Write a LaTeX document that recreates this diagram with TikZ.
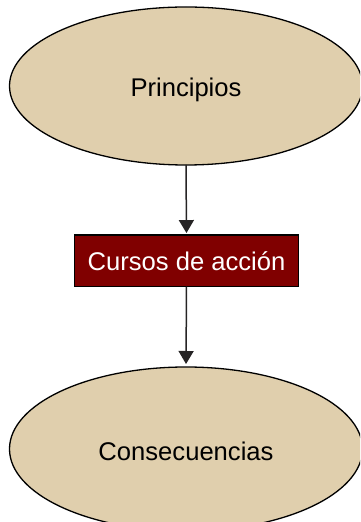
\documentclass[tikz,border=0pt]{standalone}
\usepackage{fontspec}
\setmainfont{Liberation Sans}
\usetikzlibrary{shapes.geometric,arrows.meta}
\definecolor{tan}{RGB}{224,207,173}
\definecolor{darkred}{RGB}{128,0,0}
\definecolor{arrowgray}{RGB}{38,36,37}
\begin{document}
\begin{tikzpicture}[x=1pt,y=1pt,
  oval/.style={ellipse, draw=black, line width=1.3pt, fill=tan, inner sep=0pt, outer sep=0pt,
    minimum width=353pt, font=\fontsize{25.6}{30}\selectfont},
  actbox/.style={rectangle, draw=black, line width=1.3pt, fill=darkred, text=white, inner sep=0pt, outer sep=0pt,
    minimum width=224pt, minimum height=51.5pt, font=\fontsize{25.6}{30}\selectfont},
  flow/.style={draw=arrowgray, line width=1.5pt, -{Triangle[width=15pt,length=13pt]}}]
\clip (0,0) rectangle (360,522);
\useasboundingbox (0,0) rectangle (360,522);
\node[oval, minimum height=158pt, text height=26pt, text depth=5.4pt] (p) at (186,436) {Principios};
\node[actbox] (c) at (186.5,261.2) {Cursos de acción};
\node[oval, minimum height=164pt, text height=23pt, text depth=0.5pt] (q) at (186,73) {Consecuencias};
\draw[flow, shorten >=2pt] (p.south) -- (c.north);
\draw[flow, shorten >=3pt] (c.south) -- (q.north);
\end{tikzpicture}
\end{document}
